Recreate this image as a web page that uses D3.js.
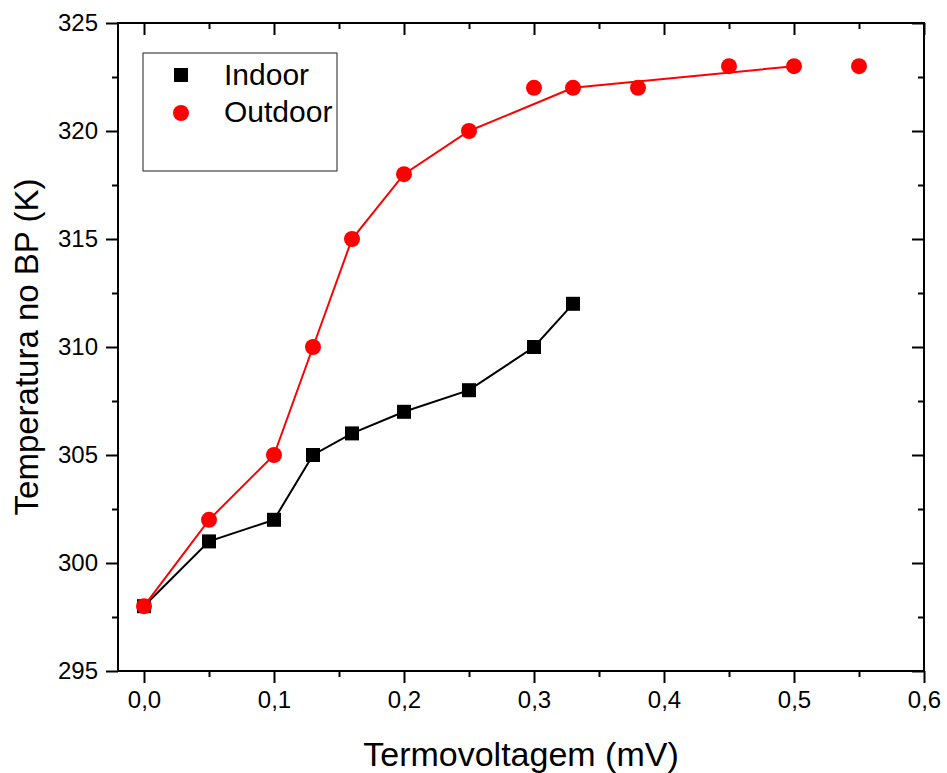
<!DOCTYPE html>
<html>
<head>
<meta charset="utf-8">
<script src="https://cdn.jsdelivr.net/npm/d3@7"></script>
<style>
  body { margin: 0; background: #fff; }
  text { font-family: "Liberation Sans", Arial, sans-serif; }
</style>
</head>
<body>
<script>
// data
var indoorX = [0, 0.05, 0.1, 0.13, 0.16, 0.2, 0.25, 0.3, 0.33];
var indoorY = [298, 301, 302, 305, 306, 307, 308, 310, 312];

var outdoorX = [0, 0.05, 0.1, 0.13, 0.16, 0.2, 0.25, 0.3, 0.33, 0.38, 0.45, 0.5, 0.55];
var outdoorY = [298, 302, 305, 310, 315, 318, 320, 322, 322, 322, 323, 323, 323];

// the red line only joins some of the outdoor points
var outdoorLineX = [0, 0.05, 0.1, 0.13, 0.16, 0.2, 0.25, 0.33, 0.5];
var outdoorLineY = [298, 302, 305, 310, 315, 318, 320, 322, 323];

var xMajor = [0, 0.1, 0.2, 0.3, 0.4, 0.5, 0.6];
var xMinor = [0.05, 0.15, 0.25, 0.35, 0.45, 0.55];
var yMajor = [295, 300, 305, 310, 315, 320, 325];
var yMinor = [297.5, 302.5, 307.5, 312.5, 317.5, 322.5];

var seriesNames = ["Indoor", "Outdoor"];

// layout
var W = 947, H = 773;
var margin = {top: 23, right: 23, bottom: 102, left: 118};
var width = W - margin.left - margin.right,
    height = H - margin.top - margin.bottom;

var x = d3.scaleLinear().domain([-0.02, 0.6]).range([0, width]);
var y = d3.scaleLinear().domain([295, 325]).range([height, 0]);

var svg = d3.select("body").append("svg")
    .attr("width", W)
    .attr("height", H);

var g = svg.append("g")
    .attr("transform", "translate(" + margin.left + "," + margin.top + ")");

var comma = function(d) { return d3.format(".1f")(d).replace(".", ","); };
var MAJ = 12, MIN = 6;

function styleAxis(sel) {
  sel.select(".domain").remove();
  sel.selectAll(".tick line").attr("stroke", "#000").attr("stroke-width", 2);
  sel.selectAll("text").attr("fill", "#000").style("font-size", "24px");
}

// bottom axis
g.append("g").attr("transform", "translate(0," + height + ")")
  .call(d3.axisBottom(x).tickValues(xMajor).tickFormat(comma).tickSize(MAJ).tickPadding(8))
  .call(styleAxis);
g.append("g").attr("transform", "translate(0," + height + ")")
  .call(d3.axisBottom(x).tickValues(xMinor).tickFormat("").tickSize(MIN))
  .call(styleAxis);

// top axis (ticks inward)
g.append("g")
  .call(d3.axisTop(x).tickValues(xMajor).tickFormat("").tickSize(-MAJ))
  .call(styleAxis);
g.append("g")
  .call(d3.axisTop(x).tickValues(xMinor).tickFormat("").tickSize(-MIN))
  .call(styleAxis);

// left axis
g.append("g")
  .call(d3.axisLeft(y).tickValues(yMajor).tickFormat(d3.format("d")).tickSize(MAJ).tickPadding(8))
  .call(styleAxis);
g.append("g")
  .call(d3.axisLeft(y).tickValues(yMinor).tickFormat("").tickSize(MIN))
  .call(styleAxis);

// right axis (ticks inward)
g.append("g").attr("transform", "translate(" + width + ",0)")
  .call(d3.axisRight(y).tickValues(yMajor).tickFormat("").tickSize(-MAJ))
  .call(styleAxis);
g.append("g").attr("transform", "translate(" + width + ",0)")
  .call(d3.axisRight(y).tickValues(yMinor).tickFormat("").tickSize(-MIN))
  .call(styleAxis);

// frame
g.append("rect")
    .attr("width", width)
    .attr("height", height)
    .attr("fill", "none")
    .attr("stroke", "#000")
    .attr("stroke-width", 2);

// axis titles
svg.append("text")
    .attr("x", 521)
    .attr("y", 766)
    .attr("text-anchor", "middle")
    .style("font-size", "34px")
    .text("Termovoltagem (mV)");

svg.append("text")
    .attr("transform", "translate(38,347) rotate(-90)")
    .attr("text-anchor", "middle")
    .style("font-size", "33px")
    .text("Temperatura no BP (K)");

var line = d3.line()
    .x(function(d) { return x(d[0]); })
    .y(function(d) { return y(d[1]); });

// indoor
var indoor = d3.zip(indoorX, indoorY);
g.append("path")
    .datum(indoor)
    .attr("d", line)
    .attr("fill", "none")
    .attr("stroke", "#000")
    .attr("stroke-width", 2);

g.selectAll(".sq")
    .data(indoor)
  .enter().append("rect")
    .attr("class", "sq")
    .attr("x", function(d) { return x(d[0]) - 7; })
    .attr("y", function(d) { return y(d[1]) - 7; })
    .attr("width", 14)
    .attr("height", 14)
    .attr("fill", "#000");

// outdoor
g.append("path")
    .datum(d3.zip(outdoorLineX, outdoorLineY))
    .attr("d", line)
    .attr("fill", "none")
    .attr("stroke", "#ff0000")
    .attr("stroke-width", 2);

g.selectAll(".dot")
    .data(d3.zip(outdoorX, outdoorY))
  .enter().append("circle")
    .attr("class", "dot")
    .attr("cx", function(d) { return x(d[0]); })
    .attr("cy", function(d) { return y(d[1]); })
    .attr("r", 8)
    .attr("fill", "#ff0000");

// legend
var lg = svg.append("g").attr("transform", "translate(143,53)");
lg.append("rect")
    .attr("width", 194)
    .attr("height", 118)
    .attr("fill", "#fff")
    .attr("stroke", "#444")
    .attr("stroke-width", 1.2);
lg.append("rect")
    .attr("x", 31).attr("y", 15)
    .attr("width", 14).attr("height", 14)
    .attr("fill", "#000");
lg.append("circle")
    .attr("cx", 38).attr("cy", 60)
    .attr("r", 8)
    .attr("fill", "#ff0000");
lg.selectAll(".lt")
    .data(seriesNames)
  .enter().append("text")
    .attr("class", "lt")
    .attr("x", 81)
    .attr("y", function(d, i) { return 32 + i * 37; })
    .style("font-size", "30px")
    .text(function(d) { return d; });
</script>
</body>
</html>
